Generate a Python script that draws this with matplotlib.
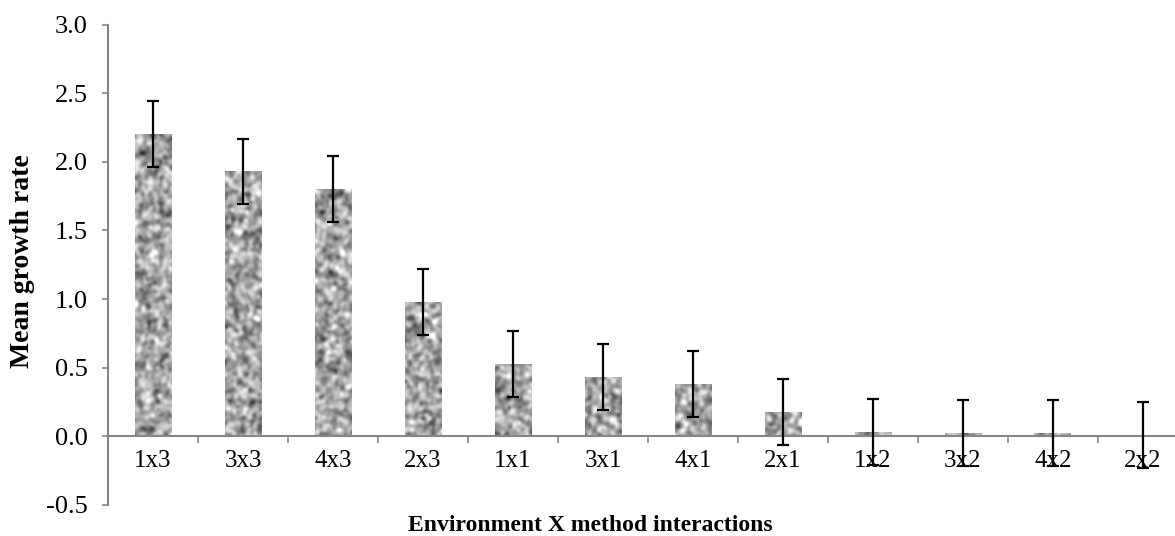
"""
mean growth rate by environment x method interaction
"""

import numpy as np
import matplotlib
matplotlib.use("Agg")
import matplotlib.pyplot as plt

plt.rcParams['font.family'] = ['Liberation Serif', 'DejaVu Serif']

# values
labels = ['1x3', '3x3', '4x3', '2x3', '1x1', '3x1', '4x1', '2x1', '1x2', '3x2', '4x2', '2x2']
means = [2.20, 1.93, 1.80, 0.98, 0.53, 0.43, 0.38, 0.18, 0.03, 0.025, 0.025, 0.01]
errors = [0.24] * 12

AXIS_GREY = '#868686'


def granite(h, w, seed):
    # smoothed noise for the stone-like fill (decoration only)
    rng = np.random.default_rng(seed)
    pad = 12
    noise = rng.standard_normal((h + 2 * pad, w + 2 * pad))
    t = np.arange(-8, 9)
    k = np.exp(-0.5 * (t / 2.0) ** 2)
    k /= k.sum()
    noise = np.apply_along_axis(lambda r: np.convolve(r, k, mode='same'), 0, noise)
    noise = np.apply_along_axis(lambda r: np.convolve(r, k, mode='same'), 1, noise)
    noise = noise[pad:pad + h, pad:pad + w]
    noise = (noise - noise.mean()) / noise.std()
    return noise


fig = plt.figure(figsize=(11.75, 5.36), dpi=100)
ax = fig.add_axes([0.092, 0.058, 0.919, 0.896])

x = np.arange(len(labels))
width = 0.41
bars = ax.bar(x, means, width=width, color='#b0b0b0', edgecolor='none', zorder=2)

# fill each bar with the granite texture
for i, b in enumerate(bars):
    h = max(b.get_height(), 0.005)
    hp = max(int(h * 137) + 2, 4)
    tex = granite(hp, 40, i)
    im = ax.imshow(tex, extent=[b.get_x(), b.get_x() + width, 0, h], aspect='auto',
                   cmap='gray', vmin=-5.2, vmax=2.8, interpolation='bilinear', zorder=2.5)
    im.set_clip_path(b)

ax.errorbar(x, means, yerr=errors, fmt='none', ecolor='black', elinewidth=1.6,
            capsize=4.5, capthick=1.6, zorder=4)

ax.set_xlim(-0.5, len(labels) - 0.5)
ax.set_ylim(-0.5, 3.0)
yt = np.arange(-0.5, 3.01, 0.5)
ax.set_yticks(yt)
ax.set_yticklabels([f'{v:.1f}' for v in yt])

# ticks between categories, labels under the bars
ax.set_xticks(np.arange(-0.5, len(labels), 1.0))
ax.set_xticklabels([])
ax.set_xticks(x, minor=True)
ax.set_xticklabels(labels, minor=True)
ax.tick_params(axis='x', which='minor', length=0, pad=10, labelsize=18)
ax.tick_params(axis='x', which='major', length=5, color=AXIS_GREY, width=1.2)
ax.tick_params(axis='y', length=4.5, color=AXIS_GREY, width=1.2, pad=10, labelsize=19)

for s in ['top', 'right']:
    ax.spines[s].set_visible(False)
ax.spines['bottom'].set_position(('data', 0))
ax.spines['bottom'].set_color(AXIS_GREY)
ax.spines['left'].set_color(AXIS_GREY)
ax.spines['bottom'].set_linewidth(1.5)
ax.spines['left'].set_linewidth(1.5)

fig.text(0.019, 0.513, 'Mean growth rate', rotation=90, ha='center', va='center',
         fontsize=20, fontweight='bold')
fig.text(0.502, 0.009, 'Environment X method interactions', ha='center', va='baseline',
         fontsize=17, fontweight='bold')

plt.savefig('out.png', dpi=100)
